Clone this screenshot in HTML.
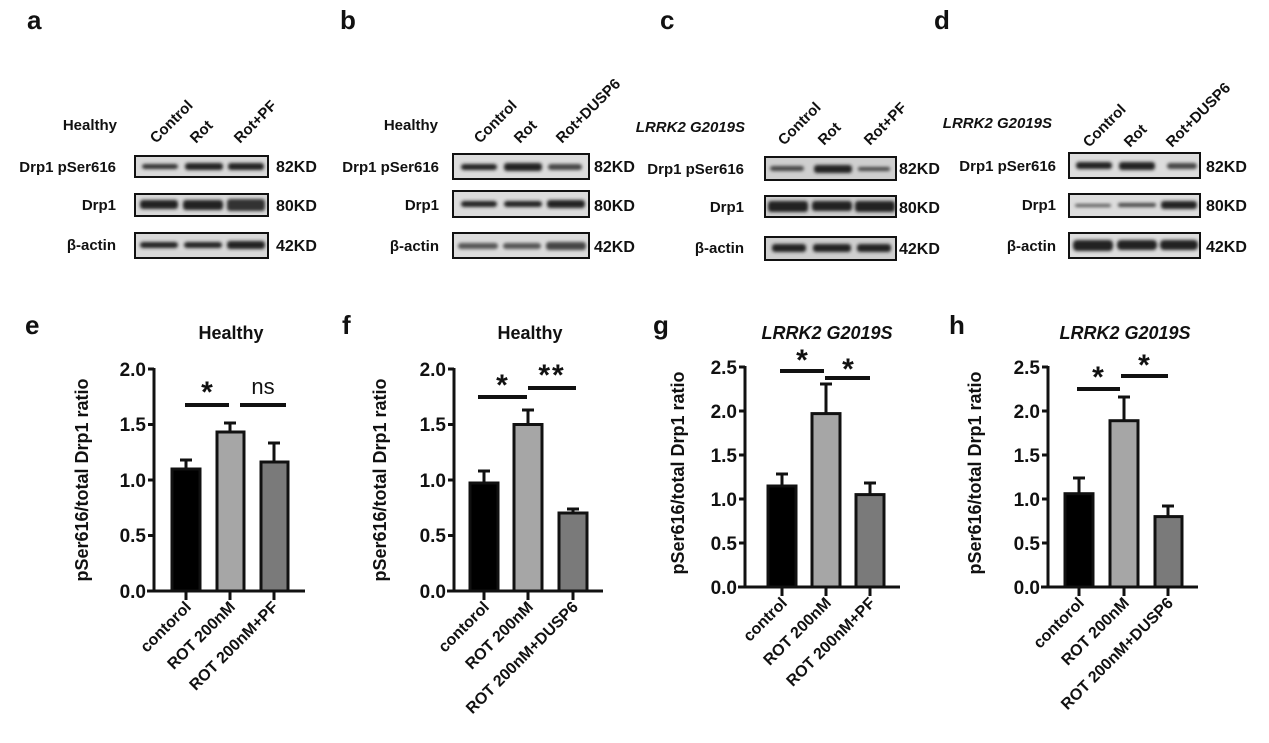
<!DOCTYPE html>
<html><head><meta charset="utf-8"><style>
html,body{margin:0;padding:0;background:#fff;}
svg{display:block;font-family:"Liberation Sans",Arial,sans-serif;font-weight:bold;}
</style></head><body>
<svg width="1269" height="743" viewBox="0 0 1269 743" xmlns="http://www.w3.org/2000/svg">
<defs><filter id="bl" x="-20%" y="-100%" width="140%" height="300%"><feGaussianBlur stdDeviation="1.6"/></filter></defs>
<g font-size="26" fill="#111">
<text x="27" y="29">a</text><text x="340" y="29">b</text><text x="660" y="29">c</text><text x="934" y="29">d</text>
<text x="25" y="334">e</text><text x="342" y="334">f</text><text x="653" y="334">g</text><text x="949" y="334">h</text>
</g>

<!-- Blot a -->
<g font-size="15" fill="#111">
<text x="117" y="130" text-anchor="end">Healthy</text>
<text transform="translate(156,144) rotate(-45)">Control</text>
<text transform="translate(196,144) rotate(-45)">Rot</text>
<text transform="translate(240,144) rotate(-45)">Rot+PF</text>
<text x="116" y="172" text-anchor="end">Drp1 pSer616</text>
<text x="116" y="210" text-anchor="end">Drp1</text>
<text x="116" y="250" text-anchor="end">β-actin</text>
<text x="276" y="172" font-size="16">82KD</text>
<text x="276" y="211" font-size="16">80KD</text>
<text x="276" y="251" font-size="16">42KD</text>
</g>
<g stroke="#111" stroke-width="2" fill="#d9d9d9">
<rect x="135" y="156" width="133" height="21"/><rect x="135" y="194" width="133" height="22"/><rect x="135" y="233" width="133" height="25"/>
</g>
<g fill="#222" filter="url(#bl)">
<rect x="142" y="164" width="36" height="5" rx="3" fill="#333"/><rect x="185" y="163" width="38" height="7" rx="3"/><rect x="228" y="163" width="36" height="7" rx="3"/>
<rect x="140" y="200" width="38" height="9" rx="3"/><rect x="183" y="200" width="40" height="10" rx="3"/><rect x="227" y="199" width="38" height="12" rx="3" fill="#333"/>
<rect x="140" y="242" width="38" height="6" rx="3"/><rect x="184" y="242" width="38" height="6" rx="3"/><rect x="227" y="241" width="38" height="8" rx="3"/>
</g>

<!-- Blot b -->
<g font-size="15" fill="#111">
<text x="438" y="130" text-anchor="end">Healthy</text>
<text transform="translate(480,144) rotate(-45)">Control</text>
<text transform="translate(520,144) rotate(-45)">Rot</text>
<text transform="translate(562,144) rotate(-45)">Rot+DUSP6</text>
<text x="439" y="172" text-anchor="end">Drp1 pSer616</text>
<text x="439" y="210" text-anchor="end">Drp1</text>
<text x="439" y="251" text-anchor="end">β-actin</text>
<text x="594" y="172" font-size="16">82KD</text>
<text x="594" y="211" font-size="16">80KD</text>
<text x="594" y="252" font-size="16">42KD</text>
</g>
<g stroke="#111" stroke-width="2" fill="#dcdcdc">
<rect x="453" y="154" width="136" height="25"/><rect x="453" y="191" width="136" height="26"/><rect x="453" y="233" width="136" height="25"/>
</g>
<g fill="#222" filter="url(#bl)">
<rect x="461" y="164" width="36" height="6" rx="3"/><rect x="504" y="163" width="38" height="8" rx="3"/><rect x="548" y="164" width="34" height="6" rx="3" fill="#444"/>
<rect x="461" y="201" width="36" height="6" rx="3"/><rect x="504" y="201" width="38" height="6" rx="3"/><rect x="547" y="200" width="38" height="8" rx="3"/>
<rect x="458" y="243" width="40" height="6" rx="3" fill="#555"/><rect x="503" y="243" width="38" height="6" rx="3" fill="#555"/><rect x="546" y="242" width="40" height="8" rx="3" fill="#444"/>
</g>

<!-- Blot c -->
<g font-size="15" fill="#111">
<text x="745" y="132" text-anchor="end" font-style="italic">LRRK2 G2019S</text>
<text transform="translate(784,146) rotate(-45)">Control</text>
<text transform="translate(824,146) rotate(-45)">Rot</text>
<text transform="translate(870,146) rotate(-45)">Rot+PF</text>
<text x="744" y="174" text-anchor="end">Drp1 pSer616</text>
<text x="744" y="212" text-anchor="end">Drp1</text>
<text x="744" y="253" text-anchor="end">β-actin</text>
<text x="899" y="174" font-size="16">82KD</text>
<text x="899" y="213" font-size="16">80KD</text>
<text x="899" y="254" font-size="16">42KD</text>
</g>
<g stroke="#111" stroke-width="2" fill="#cfcfcf">
<rect x="765" y="157" width="131" height="23"/><rect x="765" y="196" width="131" height="21"/><rect x="765" y="237" width="131" height="23"/>
</g>
<g fill="#222" filter="url(#bl)">
<rect x="770" y="166" width="34" height="5" rx="3" fill="#444"/><rect x="814" y="165" width="38" height="8" rx="3"/><rect x="858" y="167" width="32" height="4" rx="2" fill="#444"/>
<rect x="768" y="201" width="40" height="11" rx="3"/><rect x="812" y="201" width="40" height="10" rx="3"/><rect x="855" y="201" width="40" height="11" rx="3"/>
<rect x="772" y="244" width="34" height="8" rx="3"/><rect x="813" y="244" width="38" height="8" rx="3"/><rect x="857" y="244" width="34" height="8" rx="3"/>
</g>

<!-- Blot d -->
<g font-size="15" fill="#111">
<text x="1052" y="128" text-anchor="end" font-style="italic">LRRK2 G2019S</text>
<text transform="translate(1089,148) rotate(-45)">Control</text>
<text transform="translate(1130,148) rotate(-45)">Rot</text>
<text transform="translate(1172,148) rotate(-45)">Rot+DUSP6</text>
<text x="1056" y="171" text-anchor="end">Drp1 pSer616</text>
<text x="1056" y="210" text-anchor="end">Drp1</text>
<text x="1056" y="251" text-anchor="end">β-actin</text>
<text x="1206" y="172" font-size="16">82KD</text>
<text x="1206" y="211" font-size="16">80KD</text>
<text x="1206" y="252" font-size="16">42KD</text>
</g>
<g stroke="#111" stroke-width="2" fill="#dddddd">
<rect x="1069" y="153" width="131" height="25"/><rect x="1069" y="194" width="131" height="23"/><rect x="1069" y="233" width="131" height="25"/>
</g>
<g fill="#222" filter="url(#bl)">
<rect x="1076" y="162" width="36" height="7" rx="3"/><rect x="1119" y="162" width="36" height="8" rx="3"/><rect x="1167" y="163" width="30" height="6" rx="3" fill="#444"/>
<rect x="1075" y="204" width="36" height="3" rx="2" fill="#555"/><rect x="1118" y="203" width="38" height="4" rx="2" fill="#444"/><rect x="1161" y="201" width="36" height="8" rx="3"/>
<rect x="1073" y="240" width="40" height="11" rx="4"/><rect x="1117" y="240" width="40" height="10" rx="4"/><rect x="1160" y="240" width="38" height="10" rx="4"/>
</g>

<!-- Chart e -->
<g fill="#111">
<text x="231" y="339" font-size="18" text-anchor="middle">Healthy</text>
<text transform="translate(88,480) rotate(-90)" font-size="18" text-anchor="middle">pSer616/total Drp1 ratio</text>
<g font-size="19" text-anchor="end"><text x="146" y="598">0.0</text><text x="146" y="542">0.5</text><text x="146" y="487">1.0</text><text x="146" y="431">1.5</text><text x="146" y="376">2.0</text></g>
<g font-size="16" text-anchor="end"><text transform="translate(192,608) rotate(-45)">contorol</text><text transform="translate(236,608) rotate(-45)">ROT 200nM</text><text transform="translate(279,608) rotate(-45)">ROT 200nM+PF</text></g>
<text x="207" y="402" font-size="30" text-anchor="middle">*</text>
<text x="263" y="394" font-size="22" font-weight="normal" text-anchor="middle">ns</text>
</g>
<g stroke="#111" stroke-width="3" fill="none">
<path d="M154 368V591M147 591H305M148 591h6M148 535.5h6M148 480h6M148 424.5h6M148 369h6M186 591v9M230 591v9M274 591v9"/>
<path d="M186 469V460M180 460h12M230 432V423M224 423h12M274 462V443M268 443h12"/>
<path d="M185 405H229M240 405H286" stroke-width="4"/>
<rect x="172" y="469" width="28" height="122" fill="#000"/><rect x="217" y="432" width="27" height="159" fill="#a6a6a6"/><rect x="261" y="462" width="27" height="129" fill="#7a7a7a"/>
</g>

<!-- Chart f -->
<g fill="#111">
<text x="530" y="339" font-size="18" text-anchor="middle">Healthy</text>
<text transform="translate(386,480) rotate(-90)" font-size="18" text-anchor="middle">pSer616/total Drp1 ratio</text>
<g font-size="19" text-anchor="end"><text x="446" y="598">0.0</text><text x="446" y="542">0.5</text><text x="446" y="487">1.0</text><text x="446" y="431">1.5</text><text x="446" y="376">2.0</text></g>
<g font-size="16" text-anchor="end"><text transform="translate(490,608) rotate(-45)">contorol</text><text transform="translate(534,608) rotate(-45)">ROT 200nM</text><text transform="translate(579,608) rotate(-45)">ROT 200nM+DUSP6</text></g>
<text x="502" y="395" font-size="30" text-anchor="middle">*</text>
<text x="552" y="385" font-size="30" text-anchor="middle" letter-spacing="2">**</text>
</g>
<g stroke="#111" stroke-width="3" fill="none">
<path d="M454 368V591M447 591H603M448 591h6M448 535.5h6M448 480h6M448 424.5h6M448 369h6M484 591v9M528 591v9M573 591v9"/>
<path d="M484 483V471M478 471h12M528 424V410M522 410h12M573 513V509M567 509h12"/>
<path d="M478 397H527M528 388H576" stroke-width="4"/>
<rect x="470" y="483" width="28" height="108" fill="#000"/><rect x="514" y="424.5" width="28" height="166.5" fill="#a6a6a6"/><rect x="559" y="513" width="28" height="78" fill="#7a7a7a"/>
</g>

<!-- Chart g -->
<g fill="#111">
<text x="827" y="339" font-size="18" font-style="italic" text-anchor="middle">LRRK2 G2019S</text>
<text transform="translate(684,473) rotate(-90)" font-size="18" text-anchor="middle">pSer616/total Drp1 ratio</text>
<g font-size="19" text-anchor="end"><text x="737" y="594">0.0</text><text x="737" y="550">0.5</text><text x="737" y="506">1.0</text><text x="737" y="462">1.5</text><text x="737" y="418">2.0</text><text x="737" y="374">2.5</text></g>
<g font-size="16" text-anchor="end"><text transform="translate(788,604) rotate(-45)">control</text><text transform="translate(832,604) rotate(-45)">ROT 200nM</text><text transform="translate(876,604) rotate(-45)">ROT 200nM+PF</text></g>
<text x="802" y="370" font-size="30" text-anchor="middle">*</text>
<text x="848" y="379" font-size="30" text-anchor="middle">*</text>
</g>
<g stroke="#111" stroke-width="3" fill="none">
<path d="M745 366V587M738 587H900M739 587h6M739 543h6M739 499h6M739 455h6M739 411h6M739 367h6M782 587v9M826 587v9M870 587v9"/>
<path d="M782 486V474M776 474h12M826 414V384M820 384h12M870 495V483M864 483h12"/>
<path d="M780 371H824M825 378H870" stroke-width="4"/>
<rect x="768" y="486" width="28" height="101" fill="#000"/><rect x="812" y="413.6" width="28" height="173.4" fill="#a6a6a6"/><rect x="856" y="494.6" width="28" height="92.4" fill="#7a7a7a"/>
</g>

<!-- Chart h -->
<g fill="#111">
<text x="1125" y="339" font-size="18" font-style="italic" text-anchor="middle">LRRK2 G2019S</text>
<text transform="translate(981,473) rotate(-90)" font-size="18" text-anchor="middle">pSer616/total Drp1 ratio</text>
<g font-size="19" text-anchor="end"><text x="1040" y="594">0.0</text><text x="1040" y="550">0.5</text><text x="1040" y="506">1.0</text><text x="1040" y="462">1.5</text><text x="1040" y="418">2.0</text><text x="1040" y="374">2.5</text></g>
<g font-size="16" text-anchor="end"><text transform="translate(1085,604) rotate(-45)">contorol</text><text transform="translate(1130,604) rotate(-45)">ROT 200nM</text><text transform="translate(1174,604) rotate(-45)">ROT 200nM+DUSP6</text></g>
<text x="1098" y="387" font-size="30" text-anchor="middle">*</text>
<text x="1144" y="375" font-size="30" text-anchor="middle">*</text>
</g>
<g stroke="#111" stroke-width="3" fill="none">
<path d="M1048 366V587M1041 587H1198M1042 587h6M1042 543h6M1042 499h6M1042 455h6M1042 411h6M1042 367h6M1079 587v9M1124 587v9M1168 587v9"/>
<path d="M1079 494V478M1073 478h12M1124 421V397M1118 397h12M1168 517V506M1162 506h12"/>
<path d="M1077 389H1120M1121 376H1168" stroke-width="4"/>
<rect x="1065" y="493.7" width="28" height="93.3" fill="#000"/><rect x="1110" y="420.7" width="28" height="166.3" fill="#a6a6a6"/><rect x="1155" y="516.6" width="27" height="70.4" fill="#7a7a7a"/>
</g>
</svg>
</body></html>
